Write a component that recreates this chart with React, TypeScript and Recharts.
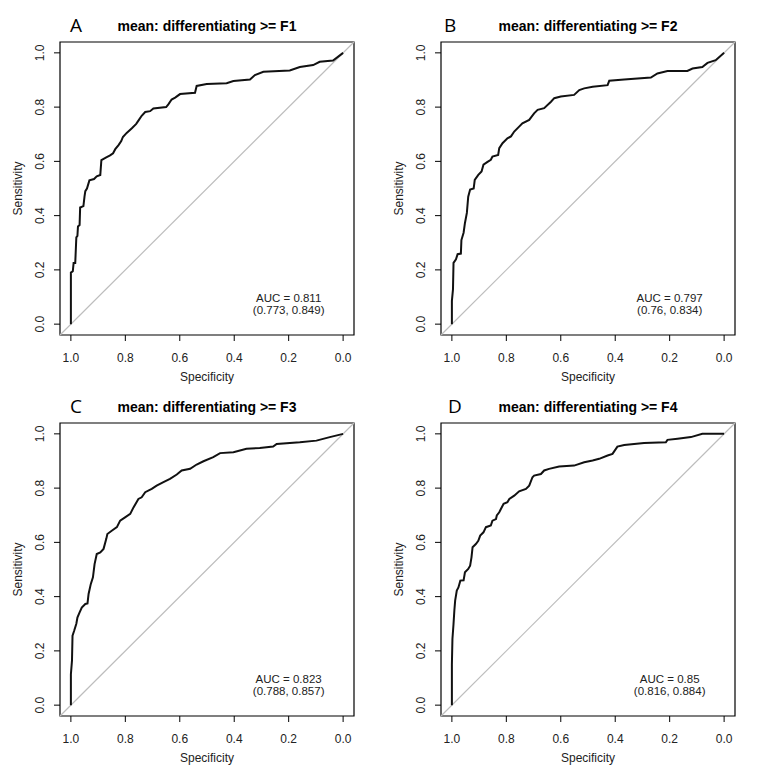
import {
  LineChart,
  Line,
  XAxis,
  YAxis,
  ReferenceArea,
  ReferenceLine,
  ReferenceDot,
} from 'recharts';

const ticks = [0, 0.2, 0.4, 0.6, 0.8, 1.0];

const specA = [1.0, 1.0, 0.993, 0.99, 0.984, 0.98, 0.976, 0.974, 0.968, 0.966, 0.954, 0.95, 0.947, 0.941, 0.932, 0.915, 0.905, 0.892, 0.888, 0.87, 0.856, 0.845, 0.837, 0.825, 0.815, 0.809, 0.795, 0.776, 0.76, 0.752, 0.74, 0.727, 0.709, 0.697, 0.65, 0.642, 0.63, 0.617, 0.599, 0.544, 0.538, 0.501, 0.428, 0.403, 0.342, 0.324, 0.293, 0.196, 0.159, 0.11, 0.086, 0.037, 0.0];
const sensA = [0.0, 0.19, 0.195, 0.225, 0.225, 0.32, 0.325, 0.36, 0.365, 0.43, 0.435, 0.47, 0.49, 0.5, 0.53, 0.535, 0.545, 0.55, 0.605, 0.615, 0.622, 0.63, 0.645, 0.66, 0.675, 0.69, 0.705, 0.722, 0.738, 0.75, 0.768, 0.782, 0.785, 0.795, 0.8, 0.81, 0.828, 0.835, 0.848, 0.853, 0.878, 0.885, 0.888, 0.896, 0.902, 0.918, 0.93, 0.935, 0.948, 0.955, 0.967, 0.972, 1.0];

const specB = [1.0, 1.0, 0.996, 0.994, 0.985, 0.979, 0.967, 0.965, 0.957, 0.952, 0.945, 0.94, 0.933, 0.92, 0.916, 0.903, 0.891, 0.884, 0.869, 0.857, 0.851, 0.83, 0.826, 0.814, 0.796, 0.783, 0.771, 0.753, 0.741, 0.716, 0.698, 0.685, 0.661, 0.636, 0.624, 0.6, 0.551, 0.532, 0.514, 0.483, 0.428, 0.422, 0.367, 0.269, 0.245, 0.208, 0.135, 0.116, 0.08, 0.061, 0.031, 0.0];
const sensB = [0.0, 0.086, 0.128, 0.226, 0.239, 0.258, 0.26, 0.31, 0.337, 0.373, 0.41, 0.47, 0.496, 0.5, 0.532, 0.55, 0.563, 0.588, 0.598, 0.606, 0.618, 0.624, 0.649, 0.667, 0.685, 0.692, 0.71, 0.728, 0.74, 0.753, 0.777, 0.79, 0.796, 0.82, 0.833, 0.839, 0.845, 0.863, 0.869, 0.875, 0.881, 0.897, 0.902, 0.909, 0.924, 0.933, 0.933, 0.942, 0.948, 0.963, 0.973, 1.0];

const specC = [1.0, 1.0, 0.996, 0.994, 0.988, 0.98, 0.976, 0.968, 0.96, 0.947, 0.939, 0.935, 0.927, 0.919, 0.913, 0.905, 0.892, 0.88, 0.87, 0.866, 0.85, 0.831, 0.819, 0.801, 0.782, 0.77, 0.752, 0.74, 0.727, 0.703, 0.685, 0.66, 0.636, 0.611, 0.593, 0.562, 0.538, 0.513, 0.477, 0.452, 0.403, 0.355, 0.306, 0.257, 0.244, 0.159, 0.098, 0.049, 0.0];
const sensC = [0.0, 0.114, 0.164, 0.256, 0.274, 0.3, 0.323, 0.342, 0.36, 0.373, 0.375, 0.41, 0.446, 0.471, 0.52, 0.557, 0.563, 0.576, 0.613, 0.631, 0.643, 0.656, 0.68, 0.692, 0.705, 0.729, 0.76, 0.766, 0.785, 0.797, 0.809, 0.822, 0.834, 0.85, 0.865, 0.871, 0.887, 0.899, 0.914, 0.929, 0.932, 0.945, 0.948, 0.953, 0.963, 0.969, 0.975, 0.988, 1.0];

const specD = [1.0, 1.0, 0.998, 0.994, 0.991, 0.988, 0.982, 0.976, 0.969, 0.957, 0.952, 0.94, 0.933, 0.928, 0.924, 0.912, 0.903, 0.896, 0.884, 0.875, 0.857, 0.851, 0.838, 0.835, 0.826, 0.82, 0.81, 0.796, 0.789, 0.771, 0.753, 0.728, 0.716, 0.704, 0.698, 0.673, 0.661, 0.643, 0.606, 0.551, 0.514, 0.483, 0.459, 0.428, 0.41, 0.392, 0.367, 0.294, 0.214, 0.208, 0.171, 0.122, 0.08, 0.0];
const sensD = [0.0, 0.151, 0.244, 0.299, 0.348, 0.385, 0.422, 0.434, 0.459, 0.46, 0.49, 0.502, 0.514, 0.545, 0.582, 0.594, 0.606, 0.625, 0.637, 0.656, 0.662, 0.68, 0.686, 0.699, 0.711, 0.723, 0.742, 0.748, 0.76, 0.772, 0.788, 0.797, 0.809, 0.84, 0.846, 0.852, 0.865, 0.871, 0.88, 0.883, 0.895, 0.902, 0.908, 0.92, 0.926, 0.953, 0.959, 0.966, 0.969, 0.978, 0.982, 0.988, 1.0, 1.0];

const letters = ['A', 'B', 'C', 'D'];
const titles = [
  'mean: differentiating >= F1',
  'mean: differentiating >= F2',
  'mean: differentiating >= F3',
  'mean: differentiating >= F4',
];
const aucText = ['AUC = 0.811', 'AUC = 0.797', 'AUC = 0.823', 'AUC = 0.85'];
const ciText = ['(0.773, 0.849)', '(0.76, 0.834)', '(0.788, 0.857)', '(0.816, 0.884)'];

const toRows = (spec: number[], sens: number[]) =>
  spec.map((s, i) => ({ spec: s, sens: sens[i] }));

const panels = [
  { data: toRows(specA, sensA), left: 0, top: 0, letterX: 70 },
  { data: toRows(specB, sensB), left: 381, top: 0, letterX: 63 },
  { data: toRows(specC, sensC), left: 0, top: 380.5, letterX: 70 },
  { data: toRows(specD, sensD), left: 381, top: 380.5, letterX: 67 },
];

const W = 391;
const H = 390;
const PL = 60; // plot left
const PT = 42; // plot top
const PW = 294;
const PH = 293;
const FONT = '"Liberation Sans", Arial, sans-serif';
const INK = '#222';

const XTick = (props: any) => {
  const { x, y, payload } = props;
  return (
    <text x={x} y={y + 8.5} textAnchor="middle" fontSize={12} fill={INK} fontFamily={FONT}>
      {Number(payload.value).toFixed(1)}
    </text>
  );
};

const YTick = (props: any) => {
  const { x, y, payload } = props;
  return (
    <text
      x={x}
      y={y}
      transform={`rotate(-90 ${x} ${y})`}
      textAnchor="middle"
      fontSize={12}
      fill={INK}
      fontFamily={FONT}
    >
      {Number(payload.value).toFixed(1)}
    </text>
  );
};

const Panel = ({ idx }: { idx: number }) => {
  const p = panels[idx];
  const aucLabel = (lp: any) => {
    const vb = lp.viewBox || {};
    const cx = (vb.x ?? 0) + (vb.width ?? 0) / 2;
    const cy = (vb.y ?? 0) + (vb.height ?? 0) / 2;
    return (
      <g fontFamily={FONT} fontSize={11.5} fill={INK}>
        <text x={cx} y={cy - 2} textAnchor="middle">{aucText[idx]}</text>
        <text x={cx} y={cy + 10.5} textAnchor="middle">{ciText[idx]}</text>
      </g>
    );
  };
  return (
    <div style={{ position: 'absolute', left: p.left, top: p.top, width: W, height: H }}>
      <LineChart
        width={W}
        height={H}
        data={p.data}
        margin={{ top: PT, right: W - PL - PW, bottom: 0, left: 0 }}
      >
        <XAxis
          dataKey="spec"
          type="number"
          domain={[-0.04, 1.04]}
          reversed
          allowDataOverflow
          ticks={ticks}
          height={H - PT - PH}
          axisLine={false}
          tickLine={{ stroke: '#000' }}
          tickSize={6}
          tickMargin={12}
          tick={<XTick />}
        />
        <YAxis
          dataKey="sens"
          type="number"
          domain={[-0.04, 1.04]}
          allowDataOverflow
          ticks={ticks}
          width={PL}
          axisLine={false}
          tickLine={{ stroke: '#000' }}
          tickSize={6}
          tickMargin={10}
          tick={<YTick />}
        />
        <ReferenceLine
          segment={[{ x: 1.04, y: -0.04 }, { x: -0.04, y: 1.04 }]}
          stroke="#bdbdbd"
          strokeWidth={1.2}
          ifOverflow="visible"
        />
        <ReferenceArea
          x1={-0.04}
          x2={1.04}
          y1={-0.04}
          y2={1.04}
          fill="none"
          fillOpacity={0}
          stroke="#000"
          strokeWidth={1.2}
          ifOverflow="visible"
        />
        <Line
          type="linear"
          dataKey="sens"
          stroke="#111"
          strokeWidth={2}
          dot={false}
          isAnimationActive={false}
        />
        <ReferenceDot x={0.2} y={0.075} r={0} stroke="none" fill="none" label={aucLabel} />
      </LineChart>
      <svg
        width={W}
        height={H}
        style={{ position: 'absolute', left: 0, top: 0, pointerEvents: 'none' }}
      >
        <text x={p.letterX} y={PT - 10} fontSize={19} fontFamily='"Open Sans", sans-serif' fill="#000">
          {letters[idx]}
        </text>
        <text
          x={PL + PW / 2}
          y={PT - 11}
          textAnchor="middle"
          fontSize={14}
          fontWeight="bold"
          fontFamily={FONT}
          fill="#000"
        >
          {titles[idx]}
        </text>
        <text
          x={PL + PW / 2}
          y={PT + PH + 46}
          textAnchor="middle"
          fontSize={12}
          fontFamily={FONT}
          fill={INK}
        >
          Specificity
        </text>
        <text
          x={PL - 38}
          y={PT + PH / 2}
          transform={`rotate(-90 ${PL - 38} ${PT + PH / 2})`}
          textAnchor="middle"
          fontSize={12}
          fontFamily={FONT}
          fill={INK}
        >
          Sensitivity
        </text>
      </svg>
    </div>
  );
};

export default function App() {
  return (
    <div
      style={{
        position: 'absolute',
        left: 0,
        top: 0,
        width: 782,
        height: 777,
        background: '#fff',
      }}
    >
      {panels.map((_, i) => (
        <Panel key={i} idx={i} />
      ))}
    </div>
  );
}
